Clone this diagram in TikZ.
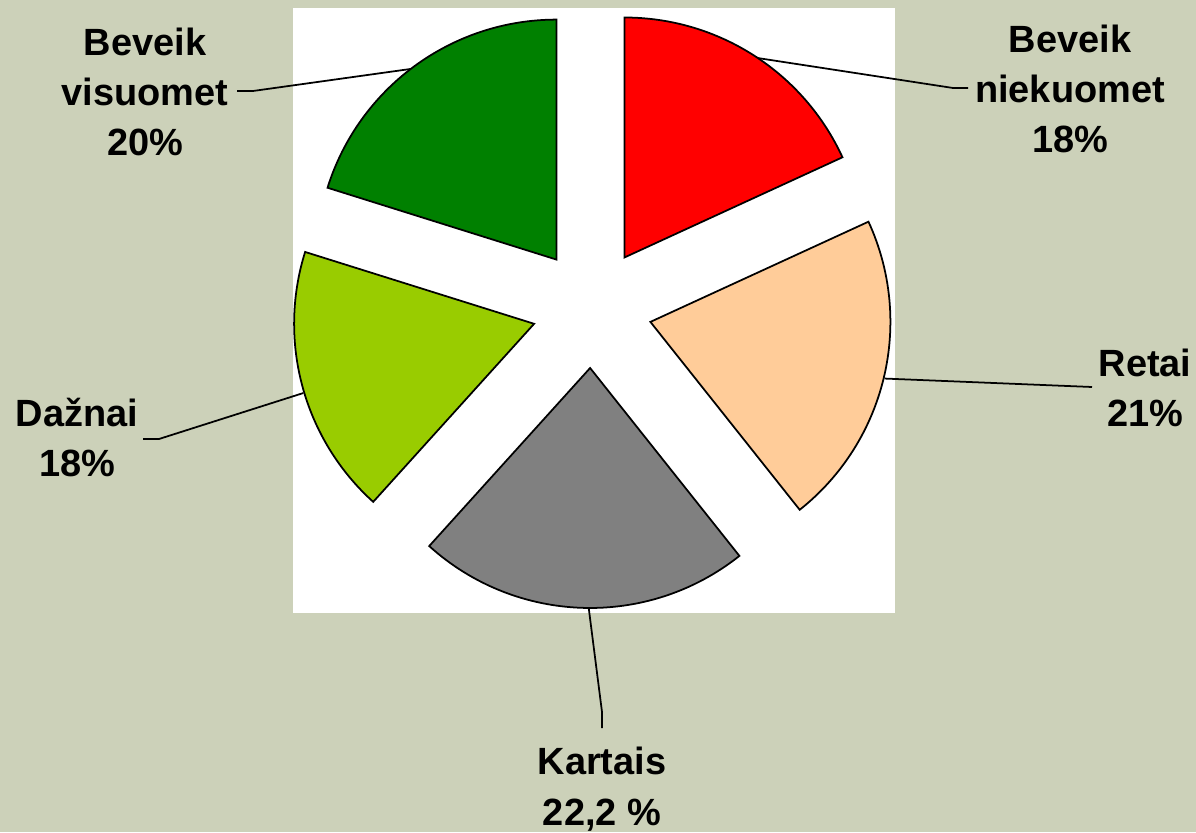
\documentclass[tikz,border=0pt]{standalone}
\usepackage{fontspec}
\setmainfont{Liberation Sans}
\definecolor{bgolive}{RGB}{204,209,185}
\definecolor{sliceRed}{RGB}{255,0,0}
\definecolor{slicePeach}{RGB}{255,204,153}
\definecolor{sliceGray}{RGB}{128,128,128}
\definecolor{sliceLime}{RGB}{153,204,0}
\definecolor{sliceGreen}{RGB}{0,128,0}
\begin{document}
\begin{tikzpicture}[x=0.02cm, y=0.02cm,
  slice/.style={draw=black, line width=1pt},
  lbl/.style={font=\fontsize{21.6}{28.7}\selectfont\bfseries, align=center, anchor=base, inner sep=0pt},
  leader/.style={draw=black, line width=1pt}]
% 背景
\fill[bgolive] (0,0) rectangle (1196,832);
\useasboundingbox (0,0) rectangle (1196,832);
\fill[white] (293,219) rectangle (895,824);

% 扇形の頂点(座標で配置)
\coordinate (redapex)   at (624.4,574.5);
\coordinate (peachapex) at (650.4,510.1);
\coordinate (grayapex)  at (590.1,464.0);
\coordinate (limeapex)  at (534.1,508.2);
\coordinate (greenapex) at (556.5,572.4);

% 扇形
\filldraw[slice, fill=sliceRed]   (redapex)   -- ++(90:240)     arc[start angle=90,     end angle=24.68,   radius=240] -- cycle;
\filldraw[slice, fill=slicePeach] (peachapex) -- ++(24.68:240)  arc[start angle=24.68,  end angle=-51.53,  radius=240] -- cycle;
\filldraw[slice, fill=sliceGray]  (grayapex)  -- ++(-51.53:240) arc[start angle=-51.53, end angle=-132.10, radius=240] -- cycle;
\filldraw[slice, fill=sliceLime]  (limeapex)  -- ++(-132.10:240) arc[start angle=-132.10, end angle=-197.42, radius=240] -- cycle;
\filldraw[slice, fill=sliceGreen] (greenapex) -- ++(162.58:240) arc[start angle=162.58, end angle=90,     radius=240] -- cycle;

% ラベル(最終行のベースラインで配置)
\node[lbl] (visuomet)  at (145,676)  {Beveik\\visuomet\\20\%};
\node[lbl] (niekuomet) at (1070,679) {Beveik\\niekuomet\\18\%};
\node[lbl] (retai)     at (1145,405) {Retai\\21\%};
\node[lbl] (daznai)    at (77,355)   {Dažnai\\18\%};
\node[lbl] (kartais)   at (602,7)    {Kartais\\22,2 \%};

% 引き出し線
\path (greenapex) ++(127.4:240) coordinate (greentip);
\path (redapex)   ++(56.2:240)  coordinate (redtip);
\path (peachapex) ++(-13.6:241) coordinate (peachtip);
\path (grayapex)  ++(-90.3:241) coordinate (graytip);
\path (limeapex)  ++(-163.3:241) coordinate (limetip);
\coordinate (greenbend) at (253,741);  \coordinate (greenend) at (237,741);
\coordinate (redbend)   at (953,744);  \coordinate (redend)   at (968,744);
\coordinate (peachend)  at (1092,445);
\coordinate (graybend)  at (602,120);  \coordinate (grayend)  at (602,104);
\coordinate (limebend)  at (159,393);  \coordinate (limeend)  at (143,393);
\draw[leader] (greentip) -- (greenbend) -- (greenend);
\draw[leader] (redtip) -- (redbend) -- (redend);
\draw[leader] (peachtip) -- (peachend);
\draw[leader] (graytip) -- (graybend) -- (grayend);
\draw[leader] (limetip) -- (limebend) -- (limeend);
\end{tikzpicture}
\end{document}
